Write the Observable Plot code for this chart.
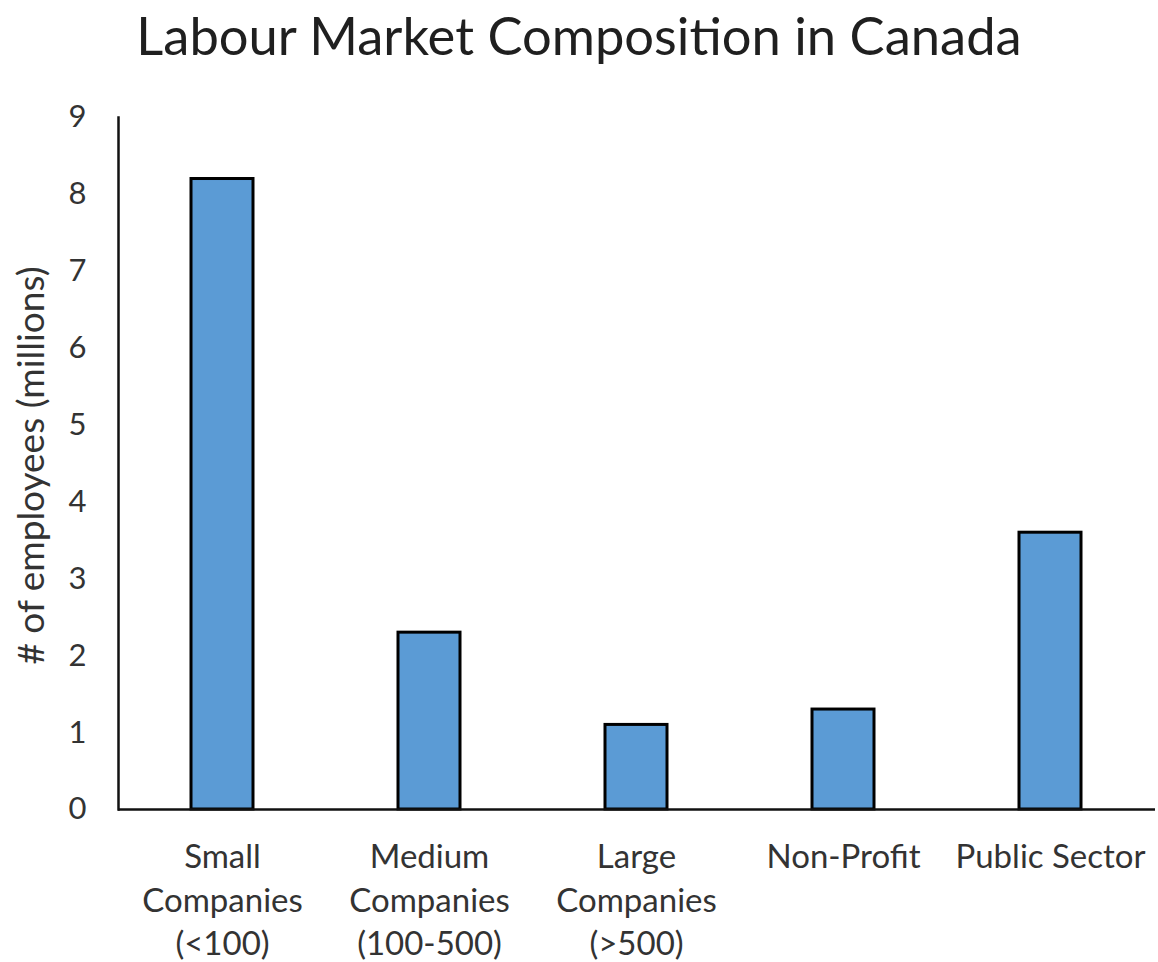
<!DOCTYPE html>
<html>
<head>
<meta charset="utf-8">
<script src="https://cdn.jsdelivr.net/npm/d3@7"></script>
<script src="https://cdn.jsdelivr.net/npm/@observablehq/plot@0.6"></script>
<style>
  html, body { margin: 0; padding: 0; background: #fff; }
  #wrap { position: relative; width: 1158px; height: 962px; overflow: hidden; }
  #title { position: absolute; left: 0; top: 0; width: 1158px; height: 90px; text-align: center;
           font-family: Lato, "Open Sans", sans-serif; font-size: 52.5px; line-height: 70px; color: #1f1f1f; }
  #chart { position: absolute; left: 0; top: 90px; }
</style>
</head>
<body>
<div id="wrap">
  <div id="title">Labour Market Composition in Canada</div>
  <div id="chart"></div>
</div>
<script>
const categories = [
  "Small\nCompanies\n(<100)",
  "Medium\nCompanies\n(100-500)",
  "Large\nCompanies\n(>500)",
  "Non-Profit",
  "Public Sector"
];
const employees = [8.2, 2.3, 1.1, 1.3, 3.6];
const yTicks = [0, 1, 2, 3, 4, 5, 6, 7, 8, 9];
const yLabel = "# of employees (millions)";

const data = categories.map((c, i) => ({category: c, value: employees[i]}));

const chart = Plot.plot({
  width: 1158,
  height: 872,
  marginTop: 27,
  marginBottom: 153,
  marginLeft: 118,
  marginRight: 3,
  style: {fontFamily: "Lato, 'Open Sans', sans-serif", background: "#fff", color: "#333"},
  x: {domain: categories, paddingInner: 0.7, paddingOuter: 0.35, label: null},
  y: {domain: [0, 9], label: null},
  marks: [
    Plot.barY(data, {x: "category", y: "value", fill: "#5B9BD5", stroke: "#000", strokeWidth: 3}),
    Plot.ruleY([0], {stroke: "#111", strokeWidth: 2.5}),
    Plot.frame({anchor: "left", stroke: "#111", strokeWidth: 2.5}),
    Plot.axisY(yTicks, {tickSize: 0, tickPadding: 32, fontSize: 31, fill: "#333", label: null, tickFormat: d => String(d)}),
    Plot.axisX({tickSize: 0, tickPadding: 27, fontSize: 33, lineHeight: 1.33, fill: "#333", label: null}),
    Plot.text([yLabel], {frameAnchor: "left", rotate: -90, dx: -86, dy: 2, textAnchor: "middle", lineAnchor: "middle", fontSize: 37, fill: "#333", text: d => d})
  ]
});
document.getElementById("chart").appendChild(chart);
</script>
</body>
</html>
